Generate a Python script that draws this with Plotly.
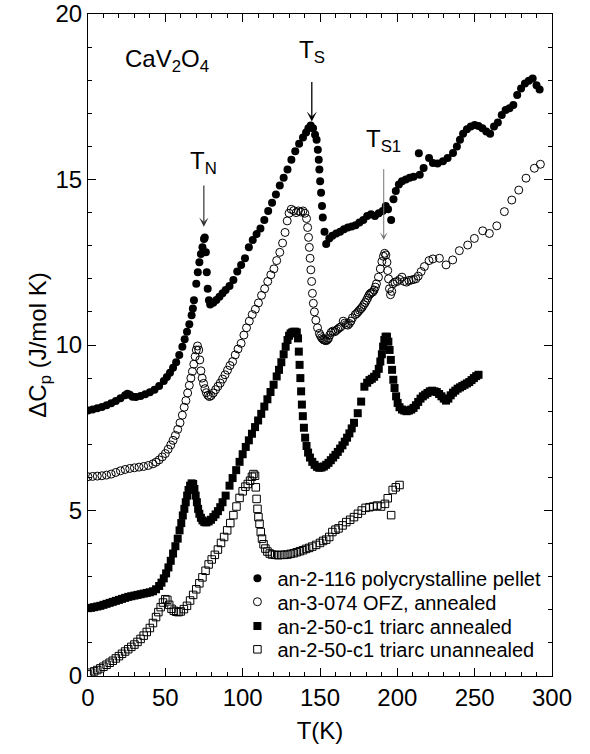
import plotly.graph_objects as go

# ---- Heat capacity data: temperature T (K) and Delta Cp (J/mol K), curves offset vertically ----
pellet_T = [0, 3, 6, 9, 12, 15, 18, 21, 24, 25.5, 27, 28.8, 31, 34, 37, 40, 43, 46, 49, 51, 53, 55, 57, 59,
            61, 62.5, 64, 65.5, 67, 67.8, 68.5, 70, 71, 72, 73, 74, 75, 75.5, 76.2, 76.8, 77.4, 78.2, 79,
            81, 83, 85, 87, 89, 91.5, 94, 96.5, 99, 101.5, 104, 106.5, 109, 111.5, 114, 116.5, 119, 121.5,
            124, 126.5, 129, 131.5, 134, 136.5, 139, 141, 142.5, 144, 145.5, 146.8, 147.8, 148.6, 149.2,
            149.6, 150.1, 150.7, 151.3, 151.8, 152.9, 154, 156, 158, 160.5, 163, 165.5, 168, 170.5, 173,
            175.5, 178, 180.5, 183, 185.5, 188, 190.5, 192.5, 194, 196, 197.5, 199, 201, 203, 205.5, 208,
            210.5, 213.9, 214.5, 217, 220.5, 223, 226, 229.5, 232.5, 236, 238.5, 240.5, 242.5, 245, 247.5,
            250, 252.5, 255, 257.5, 260, 262.5, 265, 267.5, 270, 272.5, 275, 277.5, 280, 282.5, 285, 287.5,
            290, 292]
pellet_C = [8.02, 8.05, 8.09, 8.13, 8.18, 8.24, 8.31, 8.39, 8.48, 8.53, 8.50, 8.44, 8.43, 8.46, 8.51, 8.57,
            8.65, 8.76, 8.91, 9.03, 9.16, 9.31, 9.48, 9.70, 9.95, 10.17, 10.40, 10.63, 10.90, 11.1, 11.35,
            11.85, 12.2, 12.5, 12.75, 12.95, 13.2, 13.25, 12.8, 12.2, 11.7, 11.35, 11.22, 11.28, 11.36,
            11.46, 11.56, 11.66, 11.78, 11.96, 12.22, 12.42, 12.62, 12.95, 13.17, 13.35, 13.52, 13.78,
            14.05, 14.3, 14.55, 14.82, 15.05, 15.3, 15.6, 15.85, 16.08, 16.27, 16.42, 16.55, 16.63, 16.55,
            16.35, 16.2, 15.9, 15.6, 15.3, 14.95, 14.6, 14.2, 13.85, 13.42, 13.05, 13.22, 13.3, 13.37,
            13.42, 13.5, 13.55, 13.58, 13.62, 13.7, 13.78, 13.9, 13.95, 13.9, 13.98, 14.05, 14.2, 14.1,
            13.78, 14.4, 14.65, 14.85, 14.95, 15.0, 15.05, 15.08, 15.79, 15.14, 15.35, 15.65, 15.5, 15.48,
            15.55, 15.65, 15.8, 16.0, 16.2, 16.38, 16.52, 16.6, 16.65, 16.62, 16.55, 16.45, 16.38, 16.6,
            16.72, 16.95, 17.1, 17.15, 17.25, 17.55, 17.75, 17.9, 17.98, 18.05, 17.85, 17.72]

ofz_T = [0, 3, 6, 9, 12, 15, 18, 21, 24, 27, 30, 33, 36, 39, 42, 44, 46, 48, 50, 51.8, 53.5, 55, 56.5, 58,
         59.5, 61, 62.2, 63.3, 64.4, 65.5, 66.5, 67.5, 68.4, 69.3, 70, 70.8, 71.6, 72.3, 73, 73.8, 74.7,
         75.6, 76.5, 77.5, 78.5, 79.6, 81, 82.5, 84, 85.5, 87, 88.6, 90.2, 91.8, 93.5, 95.2, 97, 99, 100.8,
         102.5, 104.3, 106.2, 108.2, 110.2, 112.2, 114.2, 116.2, 118.2, 120.2, 122, 124, 125.8, 127.4,
         128.8, 130, 131.4, 133, 134.6, 136, 137.5, 139, 140.2, 141.3, 142, 142.6, 143.1, 143.6, 144.1,
         144.6, 145.1, 145.7, 146.4, 147.3, 148.4, 149.6, 150.3, 151, 151.8, 152.5, 153.3, 154, 154.8,
         155.5, 156.3, 157.2, 158.3, 159.5, 160.5, 161.5, 162.5, 163.5, 165, 166, 167, 168, 169, 170, 171,
         172.8, 173.7, 174.6, 175.5, 176.5, 177.4, 178.3, 179.2, 180, 180.8, 181.6, 182.4, 183.2, 184.1,
         185, 185.8, 186.5, 187.8,
         189, 190, 191, 191.8, 192.6, 193.3, 193.8, 194.3, 194.9, 195.6, 196.4, 197.2, 198.4, 200, 201.5,
         203, 204.5, 206, 207.5, 209, 210.5, 212, 213.5, 215.4, 217.5, 220.5, 223, 227.2, 231.5, 235.8,
         240.1, 245.5, 249.8, 255.2, 259.5, 264.3, 269.2, 274, 278.5, 283.2, 288.6, 292.5]
ofz_C = [6.02, 6.03, 6.04, 6.05, 6.07, 6.1, 6.15, 6.2, 6.24, 6.27, 6.29, 6.31, 6.33, 6.36, 6.41, 6.46, 6.53,
         6.62, 6.72, 6.85, 6.98, 7.12, 7.27, 7.45, 7.65, 7.88, 8.12, 8.32, 8.55, 8.78, 9.0, 9.2, 9.42, 9.65,
         9.85, 9.97, 9.85, 9.55, 9.22, 9.0, 8.84, 8.68, 8.56, 8.48, 8.44, 8.47, 8.55, 8.65, 8.75, 8.85,
         8.97, 9.1, 9.24, 9.38, 9.5, 9.7, 9.88, 10.05, 10.3, 10.52, 10.72, 10.92, 11.08, 11.27, 11.5,
         11.7, 11.92, 12.12, 12.3, 12.55, 12.8, 13.08, 13.4, 13.75, 13.98, 14.1, 14.06, 14.0, 14.05,
         14.02, 14.05, 13.98, 13.82, 13.55, 13.25, 12.95, 12.62, 12.27, 11.92, 11.56, 11.26, 11.0, 10.75,
         10.52, 10.35, 10.28, 10.22, 10.18, 10.15, 10.14, 10.13, 10.16,
         10.2, 10.3, 10.38, 10.42, 10.4, 10.44, 10.48, 10.52, 10.55, 10.72, 10.66, 10.62, 10.6, 10.65,
         10.72, 10.82,
         10.92, 10.95, 11.0, 11.05, 11.1, 11.15, 11.22, 11.28, 11.35, 11.42, 11.5, 11.55, 11.58, 11.6,
         11.66, 11.75, 11.85, 12.05,
         12.3, 12.52, 12.68, 12.77,
         12.72, 12.5, 12.25, 12.0, 11.7, 11.52, 11.62, 11.85, 11.9, 11.92, 11.98, 12.05, 11.92, 11.9,
         11.95, 11.96, 11.98, 12.0, 12.08, 12.22, 12.37, 12.55, 12.6, 12.62, 12.42, 12.57, 12.85, 13.02,
         13.22, 13.45, 13.37, 13.6, 14.03, 14.38, 14.68, 15.04, 15.34, 15.46]

ann_T = [0, 2, 4, 6, 8, 10, 12, 14, 16, 18, 20, 22, 24, 26, 28, 30, 32, 34, 36, 38, 40, 42, 44, 46, 47.5,
         49, 50.5, 52, 53.5, 55, 56.5, 58, 59.2, 60.3, 61.3, 62.3, 63.2, 64.1, 65, 66, 67, 68, 68.8, 69.6,
         70.4, 71.2, 72, 73, 74, 75.2, 76.5, 78, 79.5, 81, 82.5, 84, 85.5, 87, 89, 91.5, 93.5, 95.8, 98,
         100, 102, 104, 106, 108, 110, 112, 114, 116, 118, 120, 122, 123.5, 125, 126.5, 127.8, 129, 130,
         131, 132, 133, 134, 135, 135.8, 136.3, 136.8, 137.3, 137.8, 138.3, 138.9, 139.6, 140.4, 141.3,
         142.3, 143.5, 145, 146.5, 148, 149.5, 151, 152.5, 154, 155.5, 157, 158.5, 160, 161.5, 163, 164.5,
         166, 167.5, 169, 170.5, 172, 174.4, 176.6, 178.7, 180.5, 182, 183.5, 185, 186.5, 188, 189, 190,
         190.8, 191.6, 192.4, 193.3, 194.2, 195, 195.8, 196.6, 197.4, 198.2, 199.2, 200.2, 201.4, 203,
         204.5, 206, 207.5, 209, 210.5, 212, 213.5, 215, 216.5, 218, 219.5, 221, 222.5, 224, 225.5, 227,
         228.5, 230, 231.5, 233, 234.5, 236, 237.5, 239, 240.5, 242, 243.5, 245, 246.5, 248, 249.5, 251,
         252.5]
ann_C = [2.05, 2.06, 2.08, 2.1, 2.12, 2.15, 2.18, 2.21, 2.24, 2.27, 2.3, 2.33, 2.36, 2.39, 2.41, 2.43, 2.45,
         2.47, 2.49, 2.51, 2.53, 2.56, 2.62, 2.72, 2.82, 2.95, 3.1, 3.28, 3.48, 3.7, 3.92, 4.15, 4.4, 4.62,
         4.85, 5.05, 5.25, 5.45, 5.62, 5.75, 5.82, 5.8, 5.65, 5.45, 5.25, 5.05, 4.9, 4.78, 4.7, 4.65, 4.64,
         4.67, 4.72, 4.8, 4.88, 4.98, 5.1, 5.25, 5.45, 5.75, 5.98, 6.22, 6.47, 6.7, 6.92, 7.12, 7.32, 7.52,
         7.72, 7.92, 8.14, 8.36, 8.58, 8.8, 9.05, 9.25, 9.48, 9.72, 9.95, 10.15, 10.28, 10.35, 10.38, 10.4,
         10.4, 10.38, 10.2, 9.8, 9.4, 9.0, 8.6, 8.2, 7.85, 7.5, 7.2, 6.95, 6.75, 6.6, 6.47, 6.38, 6.32,
         6.29, 6.3, 6.33, 6.38, 6.44, 6.52, 6.6, 6.68, 6.77, 6.87, 6.97, 7.08, 7.2, 7.33, 7.48, 7.65, 7.94,
         8.29, 8.74, 8.86, 8.94, 8.98, 9.04, 9.12, 9.28, 9.5, 9.72, 9.95, 10.15, 10.25, 10.25, 10.1, 9.85,
         9.55, 9.25, 8.95, 8.7, 8.45, 8.25, 8.12, 8.05, 8.02, 8.0, 8.02, 8.05, 8.1, 8.18, 8.28, 8.38, 8.45,
         8.5, 8.55, 8.6, 8.62, 8.6, 8.58, 8.52, 8.45, 8.38, 8.32, 8.38, 8.48, 8.56, 8.62, 8.68, 8.72, 8.76,
         8.8, 8.84, 8.88, 8.94, 9.0, 9.06, 9.1]

unann_T = [0, 2, 4, 6, 8, 10, 12, 14, 16, 18, 20, 22, 24, 26, 28, 30, 32, 34, 36, 38, 40, 42, 44, 45.5, 47,
           48.5, 50, 51.3, 52.5, 54, 55.5, 57, 58.5, 60, 62, 64, 66, 68, 70, 72, 74, 76, 78, 80, 82, 84, 86,
           88, 90, 92, 94, 96, 98, 100, 101.8, 103.3, 104.8, 106, 107, 108, 108.5, 109, 109.6, 110.2,
           110.9, 111.7, 112.5, 113.5, 114.7, 116, 117.5, 119, 121, 123, 125, 127, 129, 131, 133, 135, 137,
           139, 141, 143, 145, 147.5, 150, 152, 154, 156, 158, 160, 162, 164.6, 167, 169.5, 172, 174.5,
           177, 179.5, 182, 184.5, 187, 189.5, 192, 193.8, 196, 197, 199, 201.4]
unann_C = [0.05, 0.1, 0.14, 0.18, 0.23, 0.28, 0.34, 0.4, 0.46, 0.53, 0.6, 0.67, 0.74, 0.81, 0.88, 0.95,
           1.03, 1.12, 1.22, 1.33, 1.45, 1.6, 1.78, 1.93, 2.08, 2.22, 2.32, 2.3, 2.15, 2.03, 1.97, 1.94,
           1.93, 1.95, 2.02, 2.12, 2.28, 2.45, 2.62, 2.8, 2.98, 3.18, 3.37, 3.52, 3.66, 3.82, 4.02, 4.2, 4.4,
           4.62, 4.86, 5.12, 5.38, 5.58, 5.72, 5.8, 5.9, 6.02, 6.1, 6.05, 5.7, 5.35, 5.05, 4.8, 4.6, 4.35,
           4.15, 3.98, 3.85, 3.76, 3.7, 3.67, 3.66, 3.65, 3.66, 3.66, 3.67, 3.69, 3.71, 3.74, 3.77, 3.8,
           3.84, 3.87, 3.91, 3.96, 4.02, 4.08, 4.12, 4.2, 4.35, 4.42, 4.46, 4.55, 4.65, 4.72, 4.8, 4.9, 5.0,
           5.08, 5.1, 5.12, 5.15, 5.12, 5.2, 5.37, 4.86, 5.62, 5.7, 5.77]

series_names = ["an-2-116 polycrystalline pellet",
                "an-3-074 OFZ, annealed",
                "an-2-50-c1 triarc annealed",
                "an-2-50-c1 triarc unannealed"]

# Transition markers: label, temperature, label centre, arrow tip (Delta Cp), gap below label (px)
transitions = [("T<sub>N</sub>", 74.9, 15.51, 13.57, 6),
               ("T<sub>S</sub>", 144.7, 18.88, 16.75, 14),
               ("T<sub>S1</sub>", 191.2, 16.19, 13.17, 12)]
arrow_colors = ["#333333", "#000000", "#777777"]
arrow_widths = [1.2, 1.3, 1.0]

FONT = "Liberation Sans, Arial, Helvetica, sans-serif"

fig = go.Figure()

styles = [
    (pellet_T, pellet_C, dict(symbol="circle", size=8, color="black", line=dict(width=0))),
    (ofz_T, ofz_C, dict(symbol="circle-open", size=8, color="black", line=dict(width=1, color="black"))),
    (ann_T, ann_C, dict(symbol="square", size=8, color="black", line=dict(width=0))),
    (unann_T, unann_C, dict(symbol="square-open", size=7.5, color="black", line=dict(width=1, color="black"))),
]
legend_ids = ["legend", "legend2", "legend3", "legend4"]
for name, (tx, cy, mk), lg in zip(series_names, styles, legend_ids):
    fig.add_trace(go.Scatter(x=tx, y=cy, mode="markers", name=name, marker=mk, legend=lg))

# transition labels with arrows pointing down onto the anomalies
for (lab, t, lab_y, tip, gap), col, w in zip(transitions, arrow_colors, arrow_widths):
    fig.add_annotation(x=t, y=tip, ax=t, ay=lab_y, xref="x", yref="y", axref="x", ayref="y",
                       text=lab, showarrow=True, arrowhead=3, arrowsize=1.3, arrowwidth=w,
                       arrowcolor=col, startstandoff=gap,
                       font=dict(family=FONT, size=24, color="black"))

fig.add_annotation(x=22.5, y=18.59, xref="x", yref="y", text="CaV<sub>2</sub>O<sub>4</sub>",
                   showarrow=False, xanchor="left", yanchor="middle",
                   font=dict(family=FONT, size=24, color="black"))

axis_common = dict(showline=True, linecolor="black", linewidth=1, mirror="allticks",
                   ticks="inside", ticklen=8, tickwidth=1, tickcolor="black",
                   showgrid=False, zeroline=False, automargin=False,
                   tickfont=dict(family=FONT, size=24, color="black"))

# one single-entry legend per sample, stacked inside the lower right of the plot
legend_rows = [0.1476, 0.1122, 0.0755, 0.0403]
legend_layout = {}
for lg, ypos in zip(legend_ids, legend_rows):
    legend_layout[lg] = dict(x=0.322, y=ypos, xanchor="left", yanchor="middle",
                             font=dict(family=FONT, size=20, color="black"),
                             bgcolor="rgba(0,0,0,0)", borderwidth=0)

fig.update_layout(
    width=590, height=754,
    margin=dict(l=88, r=38, t=14, b=78),
    paper_bgcolor="white", plot_bgcolor="white",
    font=dict(family=FONT, color="black"),
    xaxis=dict(range=[0, 300], tick0=0, dtick=50,
               minor=dict(dtick=10, ticks="inside", ticklen=4, tickcolor="black"),
               title=dict(text="T(K)", font=dict(family=FONT, size=24, color="black"), standoff=12),
               **axis_common),
    yaxis=dict(range=[0, 20], tick0=0, dtick=5,
               minor=dict(dtick=1, ticks="inside", ticklen=4, tickcolor="black"),
               title=dict(text="ΔC<sub>p</sub> (J/mol K)", font=dict(family=FONT, size=24, color="black"),
                          standoff=0),
               **axis_common),
    showlegend=True,
    **legend_layout,
)

fig.write_html("out.html")
